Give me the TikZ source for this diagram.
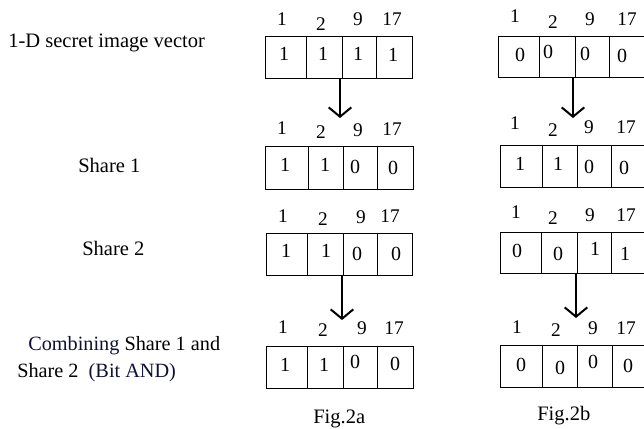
\documentclass[tikz,border=0pt]{standalone}
\usepackage{fontspec}
\setmainfont{Liberation Serif}
\usetikzlibrary{arrows.meta}

\definecolor{navytext}{RGB}{16,16,52}

% one row of a bit vector: cells with their values
% #1 name prefix, #2 top, #3 bottom, #4 list left/right/value/x/y
\newcommand{\bitrow}[4]{%
  \foreach \l/\r/\v/\cx/\cy [count=\i] in {#4} {
    \node[bitcell, minimum width={(\r-\l)*0.75pt}, minimum height={(#3-#2)*0.75pt}]
      (#1c\i) at ({(\l+\r)/2},{(#2+#3)/2}) {};
    \node[bitval] (#1v\i) at (\cx,\cy) {\v};
  }%
}
% pixel indices printed above a vector: #1 name prefix, #2 list x/y/text
\newcommand{\indexrow}[2]{%
  \foreach \cx/\cy/\t [count=\i] in {#2} {
    \node[bitidx] (#1i\i) at (\cx,\cy) {\t};
  }%
}

\tikzset{
  bitcell/.style={draw, line width=0.75pt, inner sep=0pt, outer sep=0pt},
  bitval/.style={inner sep=0pt, font=\fontsize{15}{17}\selectfont},
  bitidx/.style={inner sep=0pt, font=\fontsize{14.5}{17}\selectfont},
  caption/.style={inner sep=0pt, anchor=base west, font=\fontsize{15.4}{18}\selectfont},
  flow/.style={line width=1.5pt, -{Straight Barb[length=7pt, width=17pt]}},
}

\begin{document}
\begin{tikzpicture}[x=0.75pt, y=-0.75pt]
\useasboundingbox (0,0) rectangle (644,429);
\clip (0,0) rectangle (644,429);

% row captions
\node[caption] (lsecret) at (8,47) {1-D secret image vector};
\node[caption] (lshare1) at (78,172) {Share 1};
\node[caption] (lshare2) at (82,255) {Share 2};
\node[caption, font=\fontsize{15.2}{18}\selectfont] (lcomb1) at (28,350)
  {\textcolor{navytext}{Combining} Share 1 and};
\node[caption, font=\fontsize{15.2}{18}\selectfont] (lcomb2) at (17,377)
  {Share 2\hspace{0.25em} \textcolor{navytext}{(Bit AND)}};

% ---- Fig. 2a ----
\indexrow{a1}{282/19/1, 321/24/2, 358/19/9, 392/19/17}
\bitrow{a1}{36}{78}{265/306/1/284/54, 306/342/1/323/54, 342/376/1/358/54, 376/412/1/393/55}

\indexrow{a2}{282/128/1, 321/132/2, 358/130/9, 392/129/17}
\bitrow{a2}{146}{189}{265/308/1/285/165, 308/343/1/325/165, 343/377/0/355/167, 377/413/0/393/168}

\indexrow{a3}{283/216/1, 323/219/2, 361/217/9, 390/216/17}
\bitrow{a3}{233}{275}{266/307/1/286/251, 307/343/1/326/251, 343/377/0/357/254, 377/412/0/396/254}

\indexrow{a4}{283/327/1, 323/330/2, 362/328/9, 394/328/17}
\bitrow{a4}{346}{388}{266/307/1/285/365, 307/343/1/324/365, 343/377/0/355/362, 377/413/0/395/364}

\node[caption] (figa) at (313,423) {Fig.2a};

% ---- Fig. 2b ----
\indexrow{b1}{515/16/1, 553/22/2, 590/19/9, 627/19/17}
\bitrow{b1}{36}{77}{498/539/0/520/55, 539/575/0/548/52, 575/609/0/585/54, 609/646/0/622/56}

\indexrow{b2}{515/123/1, 553/130/2, 589/127/9, 626/127/17}
\bitrow{b2}{145}{187}{500/542/1/520/164, 542/577/1/558/164, 577/611/0/589/167, 611/646/0/624/168}

\indexrow{b3}{516/212/1, 553/218/2, 590/215/9, 626/215/17}
\bitrow{b3}{232}{273}{500/541/0/517/251, 541/577/0/558/254, 577/611/1/595/249, 611/646/1/625/254}

\indexrow{b4}{517/327/1, 556/330/2, 593/328/9, 626/328/17}
\bitrow{b4}{345}{387}{500/542/0/521/365, 542/577/0/560/368, 577/612/0/593/362, 612/646/0/628/366}

\node[caption] (figb) at (537,420) {Fig.2b};

% arrow ends
\coordinate (a1tip) at (340,118);
\coordinate (a3tip) at (342,320);
\coordinate (b1tip) at (573,118);
\coordinate (b3tip) at (576,318);

% arrows between the stages
\draw[flow] ([xshift=-1.5pt]a1c2.south east) -- (a1tip);
\draw[flow] ([xshift=-0.75pt]a3c2.south east) -- (a3tip);
\draw[flow] ([xshift=-1.5pt]b1c2.south east) -- (b1tip);
\draw[flow] ([xshift=-0.75pt]b3c2.south east) -- (b3tip);
\end{tikzpicture}
\end{document}
